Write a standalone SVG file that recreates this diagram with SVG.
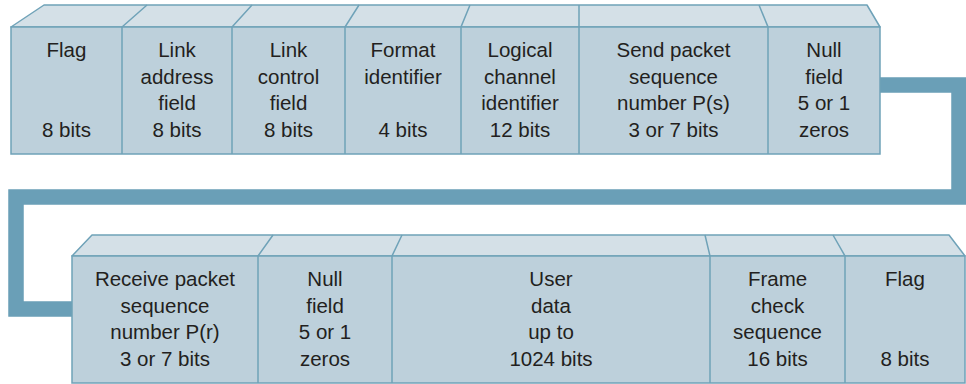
<svg xmlns="http://www.w3.org/2000/svg" width="966" height="384" viewBox="0 0 966 384">
<style>
.top{fill:#d4e0e7;stroke:#6fa2b8;stroke-width:1.5;stroke-linejoin:round}
.front{fill:#bdd0db;stroke:#6fa2b8;stroke-width:1.5}
.div{stroke:#6fa2b8;stroke-width:1.5;fill:none}
text{font-family:"Liberation Sans",Arial,sans-serif;font-size:20.5px;fill:#231f20;text-anchor:middle}
.conn{fill:none;stroke:#6a9fb7;stroke-width:15.5;stroke-linejoin:miter}
</style>
<rect width="966" height="384" fill="#ffffff"/>
<g id="connectors">
<path class="conn" d="M 878 85 H 959 V 197 H 16 V 309 H 74"/>
</g>
<g id="top-bar">
<polygon class="top" points="11,27 44,5 867,5 880,27"/>
<rect class="front" x="11" y="27" width="869" height="127"/>
<path class="div" d="M122 154V27L147 5M232 154V27L252 5M345 154V27L359 5M461 154V27L470 5M579 154V5M768 154V27L759 5"/>
</g>
<g id="flag1"><text x="66.5" y="57">Flag</text><text x="66.5" y="137">8 bits</text></g>
<g id="link-address"><text x="177" y="57">Link</text><text x="177" y="84">address</text><text x="177" y="110">field</text><text x="177" y="137">8 bits</text></g>
<g id="link-control"><text x="288.5" y="57">Link</text><text x="288.5" y="84">control</text><text x="288.5" y="110">field</text><text x="288.5" y="137">8 bits</text></g>
<g id="format-id"><text x="403" y="57">Format</text><text x="403" y="84">identifier</text><text x="403" y="137">4 bits</text></g>
<g id="logical-channel"><text x="520" y="57">Logical</text><text x="520" y="84">channel</text><text x="520" y="110">identifier</text><text x="520" y="137">12 bits</text></g>
<g id="send-seq"><text x="673.5" y="57">Send packet</text><text x="673.5" y="84">sequence</text><text x="673.5" y="110">number P(s)</text><text x="673.5" y="137">3 or 7 bits</text></g>
<g id="null1"><text x="824" y="57">Null</text><text x="824" y="84">field</text><text x="824" y="110">5 or 1</text><text x="824" y="137">zeros</text></g>
<g id="bottom-bar">
<polygon class="top" points="72,256 92,235 949,235 965,256"/>
<rect class="front" x="72" y="256" width="893" height="127"/>
<path class="div" d="M258 383V256L273 235M392 383V256L402 235M710 383V256L705 235M845 383V256L833 235"/>
</g>
<g id="receive-seq"><text x="165" y="286">Receive packet</text><text x="165" y="313">sequence</text><text x="165" y="339">number P(r)</text><text x="165" y="366">3 or 7 bits</text></g>
<g id="null2"><text x="325" y="286">Null</text><text x="325" y="313">field</text><text x="325" y="339">5 or 1</text><text x="325" y="366">zeros</text></g>
<g id="user-data"><text x="551" y="286">User</text><text x="551" y="313">data</text><text x="551" y="339">up to</text><text x="551" y="366">1024 bits</text></g>
<g id="fcs"><text x="777.5" y="286">Frame</text><text x="777.5" y="313">check</text><text x="777.5" y="339">sequence</text><text x="777.5" y="366">16 bits</text></g>
<g id="flag2"><text x="905" y="286">Flag</text><text x="905" y="366">8 bits</text></g>
</svg>
